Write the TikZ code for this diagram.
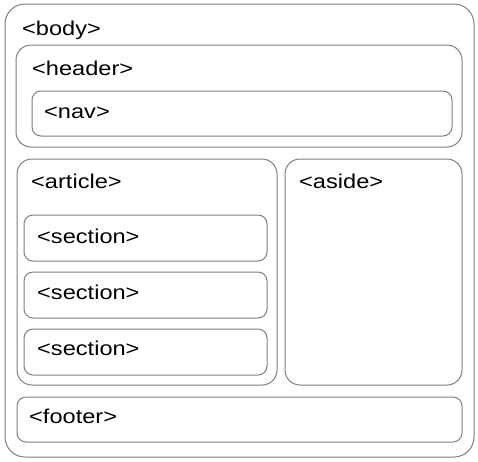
\documentclass[tikz,border=0pt]{standalone}
\usepackage{fontspec}
\setmainfont{Liberation Sans}
\begin{document}
\begin{tikzpicture}[x=1pt,y=-1pt,
  box/.style={draw=black!50, line width=1pt},
  lbl/.style={anchor=base west, inner sep=0pt, font=\fontsize{20}{24}\selectfont}]
\useasboundingbox[fill=white] (0,0) rectangle (478,461);
\newcommand{\wt}[1]{\scalebox{1.18}[1]{#1}}
% boxes
\draw[box, rounded corners=20pt] (5,4) rectangle (474,457);
\draw[box, rounded corners=15pt] (16,45) rectangle (462,147);
\draw[box, rounded corners=9pt] (32,91) rectangle (452,136);
\draw[box, rounded corners=15pt] (17,159) rectangle (277,385);
\draw[box, rounded corners=15pt] (285,159) rectangle (462,385);
\draw[box, rounded corners=9pt] (24,215) rectangle (267,261);
\draw[box, rounded corners=9pt] (24,272) rectangle (267,318);
\draw[box, rounded corners=9pt] (24,329) rectangle (267,375);
\draw[box, rounded corners=9pt] (17,397) rectangle (462,442);
% labels
\node[lbl] (body) at (22,35) {\wt{<body>}};
\node[lbl] (header) at (32,75) {\wt{<header>}};
\node[lbl] (nav) at (44,118) {\wt{<nav>}};
\node[lbl] (article) at (31,188) {\wt{<article>}};
\node[lbl] (aside) at (299,188) {\wt{<aside>}};
\node[lbl] (s1) at (37,243) {\wt{<section>}};
\node[lbl] (s2) at (37,299) {\wt{<section>}};
\node[lbl] (s3) at (37,355) {\wt{<section>}};
\node[lbl] (footer) at (29,423) {\wt{<footer>}};
\end{tikzpicture}
\end{document}
